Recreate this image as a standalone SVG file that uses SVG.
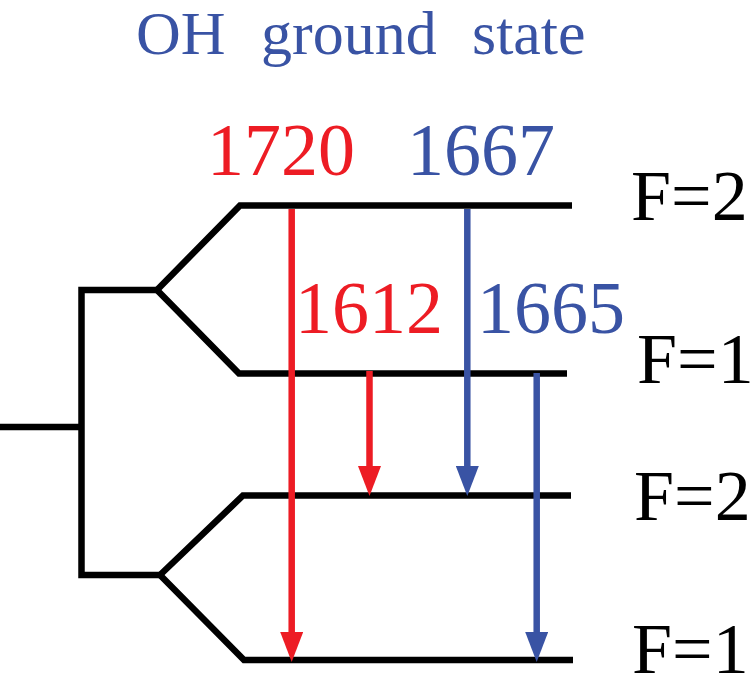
<svg xmlns="http://www.w3.org/2000/svg" width="756" height="676" viewBox="0 0 756 676">
<style>
.lvl{fill:none;stroke:#000;stroke-width:6.5;stroke-linejoin:miter;stroke-linecap:butt}
.red{stroke:#ED1C24;stroke-width:6.5;fill:none}
.blue{stroke:#3953A4;stroke-width:6.5;fill:none}
.t{font-family:"Liberation Serif","Times New Roman",serif}
.tr{fill:#ED1C24}
.tb{fill:#3953A4}
.tk{fill:#000}
</style>
<defs>
<marker id="ahR" markerUnits="userSpaceOnUse" viewBox="0 0 30 23" refX="0" refY="11.5" markerWidth="30" markerHeight="23" orient="auto">
<path d="M0,0 L30,11.5 L0,23 z" fill="#ED1C24"/>
</marker>
<marker id="ahB" markerUnits="userSpaceOnUse" viewBox="0 0 30 23" refX="0" refY="11.5" markerWidth="30" markerHeight="23" orient="auto">
<path d="M0,0 L30,11.5 L0,23 z" fill="#3953A4"/>
</marker>
</defs>
<g id="title">
<text class="t tb" font-size="62" x="136" y="54">OH</text>
<text class="t tb" font-size="62" x="261" y="54">ground</text>
<text class="t tb" font-size="62" x="472" y="54">state</text>
</g>
<g id="tree">
<polyline class="lvl" points="0,427 81.5,427"/>
<polyline class="lvl" points="157,290 81.5,290 81.5,575 160,575"/>
</g>
<g id="level-F2-upper">
<polyline class="lvl" points="157,290 240,205.5 572,205.5"/>
<text class="t tk" font-size="72" x="631" y="220">F=2</text>
</g>
<g id="level-F1-upper">
<polyline class="lvl" points="157,290 239,373.5 567,373.5"/>
<text class="t tk" font-size="72" x="637" y="383">F=1</text>
</g>
<g id="level-F2-lower">
<polyline class="lvl" points="160,575 243,495.5 571,495.5"/>
<text class="t tk" font-size="72" x="634" y="520">F=2</text>
</g>
<g id="level-F1-lower">
<polyline class="lvl" points="160,575 244,660 573,660"/>
<text class="t tk" font-size="72" x="632" y="673">F=1</text>
</g>
<g id="connectors">
<line class="red" x1="291.7" y1="209" x2="291.7" y2="632" marker-end="url(#ahR)"/>
<line class="red" x1="369.5" y1="371" x2="369.5" y2="466" marker-end="url(#ahR)"/>
<line class="blue" x1="467.3" y1="209" x2="467.3" y2="466" marker-end="url(#ahB)"/>
<line class="blue" x1="536.7" y1="373" x2="536.7" y2="632" marker-end="url(#ahB)"/>
</g>
<g id="labels">
<text class="t tr" font-size="74" x="207" y="175">1720</text>
<text class="t tb" font-size="74" x="407" y="175">1667</text>
<text class="t tr" font-size="74" x="295" y="333">1612</text>
<text class="t tb" font-size="74" x="477" y="333">1665</text>
</g>
</svg>
